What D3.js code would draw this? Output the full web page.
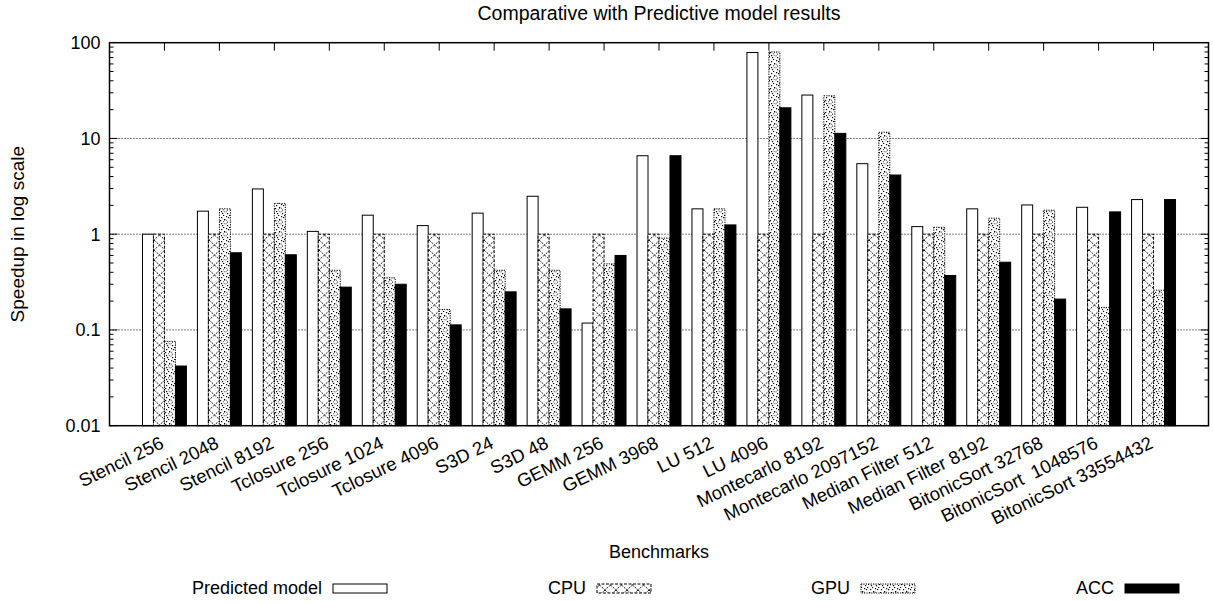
<!DOCTYPE html>
<html><head><meta charset="utf-8">
<script src="https://cdn.jsdelivr.net/npm/d3@7/dist/d3.min.js"></script>
<style>
html,body{margin:0;padding:0;background:#fff;}
svg{display:block;font-family:"Liberation Sans",Arial,sans-serif;}
text{white-space:pre;}
</style></head>
<body>
<svg id="chart" width="1213" height="603"></svg>
<script>
const categories = ["Stencil 256","Stencil 2048","Stencil 8192","Tclosure 256","Tclosure 1024","Tclosure 4096","S3D 24","S3D 48","GEMM 256","GEMM 3968","LU 512","LU 4096","Montecarlo 8192","Montecarlo 2097152","Median Filter 512","Median Filter 8192","BitonicSort 32768","BitonicSort  1048576","BitonicSort 33554432"];
const predicted = [1.0,1.74,2.97,1.07,1.58,1.23,1.66,2.49,0.118,6.6,1.84,79,28.4,5.45,1.2,1.84,2.02,1.91,2.3];
const cpu = [1,1,1,1,1,1,1,1,1,1,1,1,1,1,1,1,1,1,1];
const gpu = [0.076,1.84,2.1,0.42,0.35,0.164,0.42,0.42,0.49,0.91,1.84,80,27.9,11.6,1.18,1.47,1.78,0.172,0.26];
const acc = [0.042,0.64,0.61,0.28,0.30,0.113,0.25,0.166,0.60,6.6,1.25,20.9,11.3,4.15,0.37,0.51,0.21,1.71,2.3];
const seriesNames = ["Predicted model","CPU","GPU","ACC"];
const yTicks = [0.01,0.1,1,10,100];
const yTickLabels = ["0.01","0.1","1","10","100"];
const title = "Comparative with Predictive model results";
const xTitle = "Benchmarks";
const yTitle = "Speedup in log scale";

const series = [predicted, cpu, gpu, acc];
const svg = d3.select("#chart");
const L = 109.5, R = 1208.5, T = 42.7, B = 425.7;
const x = d3.scaleLinear().domain([-1, 19]).range([L, R]);
const y = d3.scaleLog().domain([0.01, 100]).range([B, T]);
const FS = 18;

// patterns
const defs = svg.append("defs");
const pc = defs.append("pattern").attr("id","pcpu").attr("patternUnits","userSpaceOnUse")
  .attr("width",11).attr("height",10);
pc.append("rect").attr("width",11).attr("height",10).attr("fill","#fff");
pc.append("path").attr("d","M0,0L11,10M11,0L0,10").attr("stroke","#000").attr("stroke-width",0.9)
  .attr("stroke-dasharray","2.2,1.3").attr("fill","none");
const pg = defs.append("pattern").attr("id","pgpu").attr("patternUnits","userSpaceOnUse")
  .attr("width",11).attr("height",12);
pg.append("rect").attr("width",11).attr("height",12).attr("fill","#fff");
[[1,1],[4,3],[8,1],[10,5],[1,7],[7,9],[3,11],[9,11],[0,4],[6,0],[2,9],[10,8]].forEach(p=>
  pg.append("rect").attr("x",p[0]).attr("y",p[1]).attr("width",1.2).attr("height",1.2).attr("fill","#000"));
pg.append("circle").attr("cx",5.5).attr("cy",6).attr("r",2).attr("fill","none")
  .attr("stroke","#000").attr("stroke-width",0.8).attr("stroke-dasharray","1,0.8");

const fills = ["#fff","url(#pcpu)","url(#pgpu)","#000"];
const dashes = [null,"3,1.5","1.2,1.2",null];

// grid
const grid = svg.append("g");
yTicks.slice(1,-1).forEach(v=>{
  grid.append("line").attr("x1",L).attr("x2",R).attr("y1",y(v)).attr("y2",y(v))
    .attr("stroke","#000").attr("stroke-width",1).attr("stroke-dasharray","1,2");
});

// minor & major y ticks (both sides)
const tk = svg.append("g").attr("stroke","#000").attr("stroke-width",1);
for (let d=-2; d<2; d++){
  for (let m=1; m<=9; m++){
    const v = m*Math.pow(10,d);
    const len = m===1 ? 8 : 4;
    tk.append("line").attr("x1",L).attr("x2",L+len).attr("y1",y(v)).attr("y2",y(v));
    tk.append("line").attr("x1",R).attr("x2",R-len).attr("y1",y(v)).attr("y2",y(v));
  }
}
categories.forEach((c,i)=>{
  tk.append("line").attr("x1",x(i)).attr("x2",x(i)).attr("y1",T).attr("y2",T+8);
  tk.append("line").attr("x1",x(i)).attr("x2",x(i)).attr("y1",B).attr("y2",B-8);
});

// bars
const bw = 0.2;
const bars = svg.append("g");
series.forEach((vals,s)=>{
  bars.selectAll(null).data(vals).enter().append("rect")
    .attr("x",(d,i)=>x(i-0.4+bw*s))
    .attr("width",x(bw)-x(0))
    .attr("y",d=>y(d))
    .attr("height",d=>B-y(d))
    .attr("fill",fills[s])
    .attr("stroke","#000").attr("stroke-width",1)
    .attr("stroke-dasharray",dashes[s]);
});

// frame
svg.append("rect").attr("x",L).attr("y",T).attr("width",R-L).attr("height",B-T)
  .attr("fill","none").attr("stroke","#000").attr("stroke-width",1.5);

// y labels
yTicks.forEach((v,i)=>{
  svg.append("text").attr("x",L-9).attr("y",y(v)).attr("dy","0.35em")
    .attr("text-anchor","end").attr("font-size",FS).text(yTickLabels[i]);
});
// x labels
categories.forEach((c,i)=>{
  svg.append("text").attr("transform",`translate(${x(i)-5},${B+10}) rotate(-26)`)
    .attr("text-anchor","end").attr("dy","0.7em").attr("font-size",18.5).text(c);
});
// titles
svg.append("text").attr("x",(L+R)/2).attr("y",20).attr("text-anchor","middle").attr("font-size",19.5).text(title);
svg.append("text").attr("x",(L+R)/2).attr("y",558).attr("text-anchor","middle").attr("font-size",FS).text(xTitle);
svg.append("text").attr("transform",`translate(24,${(T+B)/2}) rotate(-90)`).attr("text-anchor","middle").attr("font-size",19).text(yTitle);

// legend
seriesNames.forEach((n,s)=>{
  const ex = 322 + s*264;
  svg.append("text").attr("x",ex).attr("y",588).attr("dy","0.35em").attr("text-anchor","end")
    .attr("font-size",FS).text(n);
  svg.append("rect").attr("x",ex+11).attr("y",584).attr("width",54).attr("height",9)
    .attr("fill",fills[s]).attr("stroke","#000").attr("stroke-width",1).attr("stroke-dasharray",dashes[s]);
});
</script>
</body></html>
